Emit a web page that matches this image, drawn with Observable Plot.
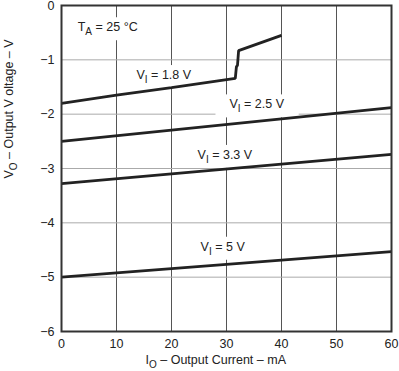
<!DOCTYPE html>
<html><head><meta charset="utf-8">
<script src="https://cdn.jsdelivr.net/npm/d3@7"></script>
<script src="https://cdn.jsdelivr.net/npm/@observablehq/plot@0.6"></script>
<style>
body{margin:0;background:#fff}
svg{font-family:Arial,"Liberation Sans",sans-serif}
</style>
</head><body><div id="chart"></div>
<script>
// Output current (mA) and output voltage (V) for each input voltage
const current18 = [0, 10, 20, 31.6, 31.8, 32.0, 32.2, 40];
const vout18    = [-1.80, -1.65, -1.51, -1.34, -1.13, -1.10, -0.83, -0.55];
const current25 = [0, 60];
const vout25    = [-2.50, -1.88];
const current33 = [0, 60];
const vout33    = [-3.28, -2.74];
const current50 = [0, 60];
const vout50    = [-5.00, -4.53];

const xTicks = [0, 10, 20, 30, 40, 50, 60];
const yTicks = [0, -1, -2, -3, -4, -5, -6];

const seriesNames = ["1.8 V", "2.5 V", "3.3 V", "5 V"];
const labelTexts = ["T_A = 25 °C", "V_I = 1.8 V", "V_I = 2.5 V", "V_I = 3.3 V", "V_I = 5 V"];
const labelCurrent = [8.4, 18.6, 35.5, 29.7, 29.3];
const labelVout = [-0.40, -1.28, -1.82, -2.75, -4.44];

const xTitle = "I_O – Output Current – mA";
const yTitle = "V_O – Output V oltage – V";

const seriesData = [[current18, vout18], [current25, vout25], [current33, vout33], [current50, vout50]];
const rows = [];
seriesData.forEach(([cs, vs], i) => cs.forEach((c, j) => rows.push({series: seriesNames[i], current: c, vout: vs[j]})));
const labels = labelTexts.map((t, i) => ({text: t, current: labelCurrent[i], vout: labelVout[i]}));

const ink = "#222";
const plot = Plot.plot({
  width: 399, height: 371,
  marginLeft: 61, marginRight: 8, marginTop: 5, marginBottom: 40,
  style: {fontFamily: "Arial, 'Liberation Sans', sans-serif", fontSize: "12.5px", color: ink, background: "white"},
  x: {domain: [0, 60], ticks: xTicks, tickSize: 0, tickPadding: 8, label: null},
  y: {domain: [-6, 0], ticks: yTicks, tickSize: 0, tickPadding: 7, label: null,
      tickFormat: d => d === 0 ? "0" : "\u2212" + Math.abs(d)},
  marks: [
    Plot.ruleX(xTicks.slice(1, -1), {stroke: "#555", strokeWidth: 1}),
    Plot.ruleY(yTicks.slice(1, -1), {stroke: "#aaa", strokeWidth: 1}),
    Plot.line(rows, {x: "current", y: "vout", z: "series", stroke: ink, strokeWidth: 2.8, strokeLinecap: "butt", strokeLinejoin: "miter"}),
    Plot.text(labels, {x: "current", y: "vout", text: "text", fill: ink, fontSize: 12.5}),
    Plot.frame({stroke: "#333", strokeWidth: 2}),
    Plot.text([xTitle], {frameAnchor: "bottom-left", text: d => d, dx: 84, dy: 32, textAnchor: "start", fill: ink, fontSize: 12.5}),
    Plot.text([yTitle], {frameAnchor: "left", text: d => d, rotate: -90, dx: -53, dy: 10, fill: ink, fontSize: 12.5})
  ]
});
document.getElementById("chart").appendChild(plot);

const NS = "http://www.w3.org/2000/svg";
// subscripts
plot.querySelectorAll("text").forEach(t => {
  if (t.querySelector("tspan")) return;
  const s = t.textContent;
  if (!s.includes("_")) return;
  const parts = s.split(/_(\w)/);
  t.textContent = "";
  parts.forEach((p, i) => {
    const ts = document.createElementNS(NS, "tspan");
    ts.textContent = p;
    if (i % 2 === 1) { ts.setAttribute("dy", "4"); ts.setAttribute("font-size", "10"); }
    else if (i > 0) ts.setAttribute("dy", "-4");
    t.appendChild(ts);
  });
});

// white boxes behind in-plot labels
const textGroups = plot.querySelectorAll('g[aria-label="text"]');
const labelGroup = textGroups[0];
const lineGroup = plot.querySelector('g[aria-label="line"]');
const boxG = document.createElementNS(NS, "g");
if (labelGroup.getAttribute("transform")) boxG.setAttribute("transform", labelGroup.getAttribute("transform"));
labelGroup.querySelectorAll("text").forEach(t => {
  const b = t.getBBox();
  const r = document.createElementNS(NS, "rect");
  r.setAttribute("x", b.x - 14);
  r.setAttribute("y", b.y - 3);
  r.setAttribute("width", b.width + 28);
  r.setAttribute("height", b.height + 6);
  r.setAttribute("fill", "white");
  if (t.getAttribute("transform")) r.setAttribute("transform", t.getAttribute("transform"));
  boxG.appendChild(r);
});
lineGroup.parentNode.insertBefore(boxG, lineGroup);
</script>
</body></html>
